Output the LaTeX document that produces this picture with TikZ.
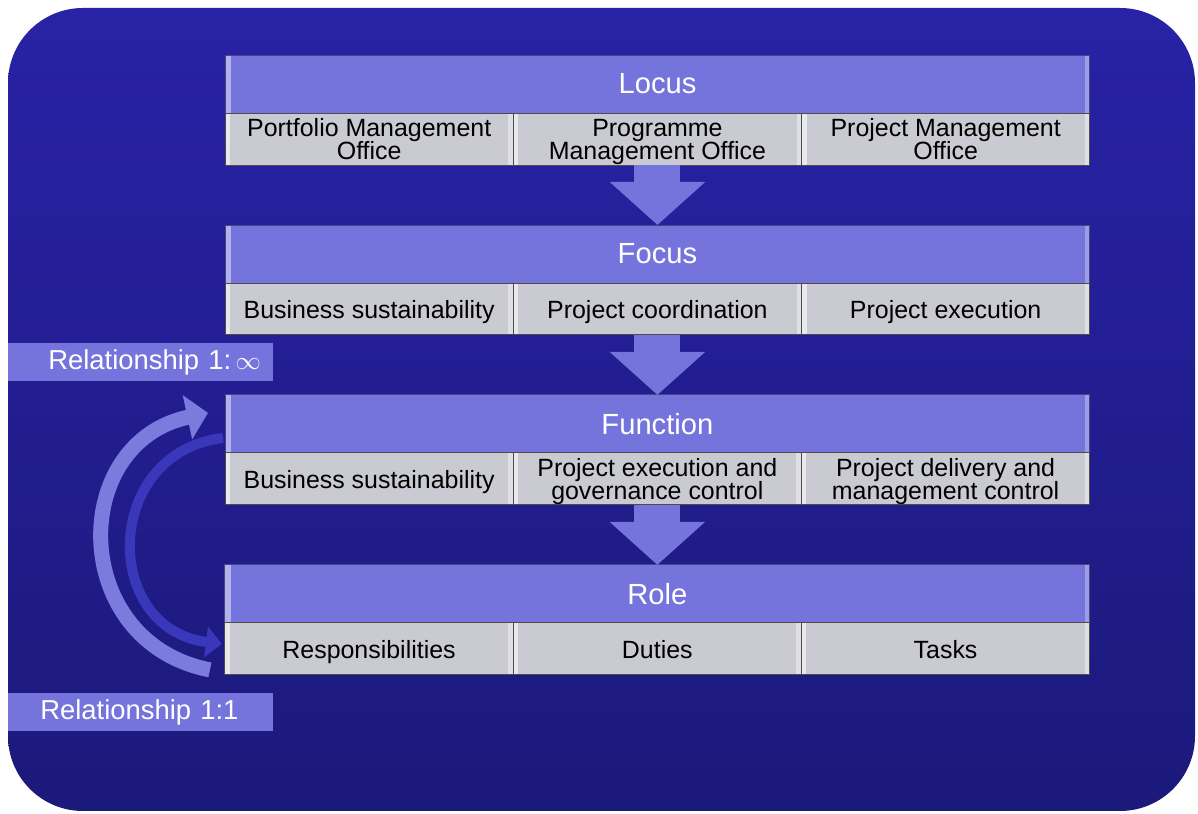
\documentclass[tikz,border=0pt]{standalone}
\usepackage{fontspec}
\setmainfont{Liberation Sans}
\usetikzlibrary{positioning,arrows.meta}
\definecolor{bgtop}{RGB}{40,34,166}
\definecolor{bgbot}{RGB}{27,25,122}
\definecolor{headblue}{RGB}{116,116,220}
\definecolor{cellgray}{RGB}{202,202,210}
\definecolor{arcdark}{RGB}{58,56,186}
% two lines of text, centred in the height of a cell
\newcommand{\twolines}[2]{\parbox[c][1.04cm][c]{5.6cm}{\centering\lineskiplimit=-10pt #1\\\raisebox{0pt}[\height][0pt]{#2}}}
\tikzset{
    % purple title bar of each level
    headbar/.style={
        draw=headblue!60!black, line width=0.5pt,
        fill=headblue, text=white,
        minimum width=17.3cm, minimum height=1.16cm, inner sep=0pt, outer sep=0pt,
        font=\fontsize{16.6}{18}\selectfont,
        path picture={
            \fill[white,opacity=0.45] (path picture bounding box.north west) rectangle ([xshift=0.12cm]path picture bounding box.south west);
            \fill[white,opacity=0.3] ([xshift=-0.1cm]path picture bounding box.north east) rectangle (path picture bounding box.south east);}
    },
    % grey cell under a title bar
    cellbox/.style={
        draw=gray!60!black, line width=0.5pt,
        fill=cellgray, text=black, align=center,
        minimum width=5.766cm, minimum height=1.04cm, inner sep=0pt, outer sep=0pt,
        font=\fontsize{14.2}{13.1}\selectfont,
        execute at begin node={\rule{0pt}{13.6pt}},
        execute at end node={\vphantom{p}},
        path picture={
            \fill[white,opacity=0.6] (path picture bounding box.north west) rectangle ([xshift=0.1cm]path picture bounding box.south west);
            \fill[white,opacity=0.4] ([xshift=-0.1cm]path picture bounding box.north east) rectangle (path picture bounding box.south east);}
    },
    relbox/.style={
        fill=headblue, text=white, align=left,
        minimum height=0.76cm, text width=5.3cm, inner xsep=0pt, inner ysep=0pt,
        font=\fontsize{15.6}{17}\selectfont
    },
    downarrow/.style={
        line width=0.92cm, headblue,
        -{Triangle[width=1.86cm, length=0.86cm]}
    },
    outerarc/.style={
        line width=0.3cm, headblue!95!white,
        -{Triangle[width=0.88cm, length=0.42cm]}
    },
    innerarc/.style={
        line width=0.2cm, arcdark,
        -{Triangle[width=0.6cm, length=0.32cm]}
    }
}

\begin{document}
\begin{tikzpicture}[x=0.02cm, y=0.02cm]
	\useasboundingbox (0,0) rectangle (1198,814);
	\fill[white] (0,0) rectangle (1198,814);
	\shade[top color=bgtop, bottom color=bgbot, rounded corners=1.5cm] (8,3) rectangle (1195,806);

	% Locus
	\node[headbar] (locus) at (657.5,730) {Locus};
	\node[cellbox, anchor=north west] (locusA) at (locus.south west) {\twolines{Portfolio Management}{Office}};
	\node[cellbox, right=0pt of locusA] (locusB) {\twolines{Programme}{Management Office}};
	\node[cellbox, right=0pt of locusB] (locusC) {\twolines{Project Management}{Office}};

	% Focus
	\node[headbar, below=1.2cm of locusB] (focus) {Focus};
	\node[cellbox, anchor=north west] (focusA) at (focus.south west) {Business sustainability};
	\node[cellbox, right=0pt of focusA] (focusB) {Project coordination};
	\node[cellbox, right=0pt of focusB] (focusC) {Project execution};

	% Function
	\node[headbar, below=1.2cm of focusB] (function) {Function};
	\node[cellbox, anchor=north west] (functionA) at (function.south west) {Business sustainability};
	\node[cellbox, right=0pt of functionA] (functionB) {\twolines{Project execution and}{governance control}};
	\node[cellbox, right=0pt of functionB] (functionC) {\twolines{Project delivery and}{management control}};

	% Role
	\node[headbar, below=1.2cm of functionB] (role) {Role};
	\node[cellbox, anchor=north west] (roleA) at (role.south west) {Responsibilities};
	\node[cellbox, right=0pt of roleA] (roleB) {Duties};
	\node[cellbox, right=0pt of roleB] (roleC) {Tasks};

	\draw[downarrow] (locusB.south) -- (focus.north);
	\draw[downarrow] (focusB.south) -- (function.north);
	\draw[downarrow] (functionB.south) -- (role.north);

	\node[relbox, anchor=west] (relMany) at (8,452) {\hspace*{0.8cm}Relationship 1:\,$\infty$};
	\node[relbox, anchor=west] (relOne) at (8,102) {\hspace*{0.64cm}Relationship 1:1};

	\draw[outerarc] ([xshift=-0.3cm, yshift=0.1cm]roleA.south west) to[out=169, in=192, looseness=1.43] ([xshift=-0.34cm, yshift=0.22cm]function.west);
	\draw[innerarc] ([xshift=-0.04cm, yshift=-0.28cm]function.west) to[out=187, in=173, looseness=1.51] ([xshift=-0.06cm, yshift=0.1cm]roleA.west);
\end{tikzpicture}
\end{document}
